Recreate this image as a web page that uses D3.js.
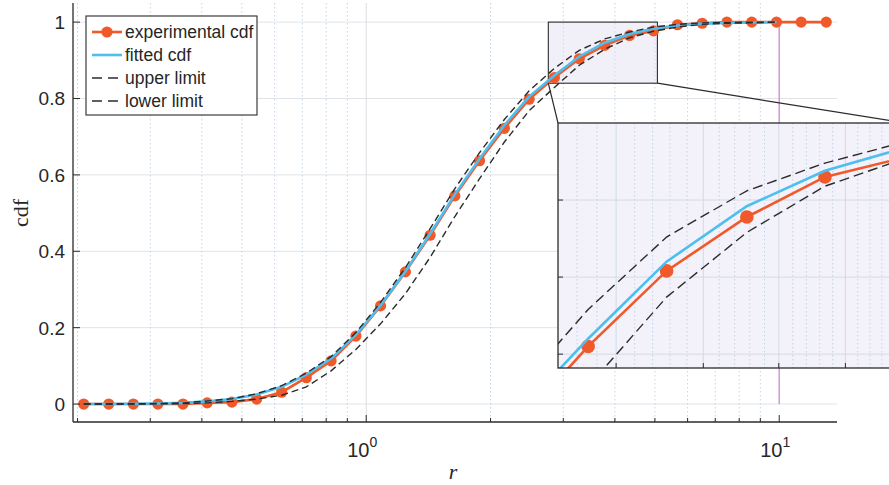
<!DOCTYPE html>
<html>
<head>
<meta charset="utf-8">
<script src="https://cdn.jsdelivr.net/npm/d3@7"></script>
<style>
body { margin: 0; background: #fff; }
text { font-family: "Liberation Sans", Arial, sans-serif; fill: #262626; }
</style>
</head>
<body>
<svg id="chart" width="889" height="485"></svg>
<script>
// sample radii
const radius = [0.207, 0.238, 0.273, 0.313, 0.360, 0.412, 0.473, 0.543, 0.624, 0.716,
    0.822, 0.944, 1.083, 1.244, 1.428, 1.639, 1.881, 2.16, 2.48, 2.855,
    3.28, 3.78, 4.34, 4.96, 5.67, 6.51, 7.47, 8.58, 9.85, 11.3, 13.0];
const experimentalCdf = [0, 0, 0, 0, 0, 0.003, 0.005, 0.013, 0.031, 0.069,
    0.113, 0.178, 0.257, 0.346, 0.442, 0.545, 0.637, 0.722, 0.798, 0.855,
    0.904, 0.939, 0.965, 0.977, 0.993, 0.997, 1, 1, 1, 1, 1];
const fittedCdf = [0, 0, 0.0006, 0.0014, 0.003, 0.007, 0.013, 0.025, 0.045, 0.077,
    0.119, 0.181, 0.258, 0.347, 0.446, 0.549, 0.642, 0.730, 0.805, 0.860,
    0.910, 0.946, 0.969, 0.983, 0.991, 0.996, 0.998, 0.999, 1.0];
const upperLimit = [0, 0, 0.0006, 0.0014, 0.003, 0.008, 0.014, 0.027, 0.048, 0.081,
    0.124, 0.187, 0.266, 0.357, 0.459, 0.564, 0.658, 0.745, 0.820, 0.879,
    0.926, 0.956, 0.974, 0.987, 0.994, 0.998, 0.999, 1.0, 1.0];
const lowerLimit = [0, 0, 0.0002, 0.0004, 0.001, 0.003, 0.007, 0.013, 0.023, 0.045,
    0.087, 0.143, 0.210, 0.289, 0.384, 0.491, 0.590, 0.686, 0.768, 0.829,
    0.887, 0.929, 0.959, 0.976, 0.987, 0.994, 0.997, 0.998, 1.0];

const yTicks = [0, 0.2, 0.4, 0.6, 0.8, 1];
const xMajorTicks = [1, 10];
const xMinorTicks = [0.2, 0.3, 0.4, 0.5, 0.6, 0.7, 0.8, 0.9, 2, 3, 4, 5, 6, 7, 8, 9];
const legendLabels = ['experimental cdf', 'fitted cdf', 'upper limit', 'lower limit'];

// zoomed window
const zoomX = [2.76, 5.07];
const zoomY = [0.84, 1.0];
const insetXDomain = [2.707, 5.0];
const insetYDomain = [0.841, 1.0];
const insetXTicks = [3, 3.5, 4, 4.5, 5];
const insetXMinor = [2.8, 2.9, 3.1, 3.2, 3.3, 3.4, 3.6, 3.7, 3.8, 3.9, 4.1, 4.2, 4.3, 4.4, 4.6, 4.7, 4.8, 4.9];
const insetYTicks = [0.85, 0.9, 0.95];

const orange = '#f0592a';
const blue = '#4dbeee';
const dark = '#2b2b2b';

const svg = d3.select('#chart');

const x = d3.scaleLog().domain([0.195, 13.8]).range([73, 837]);
const y = d3.scaleLinear().domain([-0.047, 1.05]).range([422, 3]);

const plotTop = y.range()[1], plotBottom = y.range()[0];
const plotLeft = x.range()[0], plotRight = x.range()[1];

// Grid
const grid = svg.append('g').attr('class', 'grid');
grid.selectAll('.hgrid').data(yTicks).enter().append('line')
    .attr('x1', plotLeft).attr('x2', plotRight)
    .attr('y1', d => y(d)).attr('y2', d => y(d))
    .style('stroke', '#e1e3e8').style('stroke-width', 1);
grid.selectAll('.vminor').data(xMinorTicks).enter().append('line')
    .attr('x1', d => x(d)).attr('x2', d => x(d))
    .attr('y1', plotTop).attr('y2', plotBottom)
    .style('stroke', '#bcd6ee').style('stroke-width', 1)
    .style('stroke-dasharray', '1.5,2.5');
grid.append('line')
    .attr('x1', x(1)).attr('x2', x(1)).attr('y1', plotTop).attr('y2', plotBottom)
    .style('stroke', '#dcdde2').style('stroke-width', 1);
grid.append('line')
    .attr('x1', x(10)).attr('x2', x(10)).attr('y1', y(1.01)).attr('y2', y(0))
    .style('stroke', '#d89ad6').style('stroke-width', 1.6);

// zoom window in main axes
svg.append('rect')
    .attr('x', x(zoomX[0])).attr('y', y(zoomY[1]))
    .attr('width', x(zoomX[1]) - x(zoomX[0]))
    .attr('height', y(zoomY[0]) - y(zoomY[1]))
    .style('fill', 'rgba(225,220,240,0.45)')
    .style('stroke', dark).style('stroke-width', 1.1);

function drawCurves(g, xs, ys, markerR, dash) {
    const line = (vals) => d3.line()
        .x((d, i) => xs(radius[i]))
        .y(d => ys(d))(vals);

    g.append('path').attr('d', line(experimentalCdf))
        .style('fill', 'none').style('stroke', orange).style('stroke-width', 2.6);
    g.selectAll('circle').data(experimentalCdf).enter().append('circle')
        .attr('cx', (d, i) => xs(radius[i]))
        .attr('cy', d => ys(d))
        .attr('r', markerR)
        .style('fill', orange);
    g.append('path').attr('d', line(fittedCdf))
        .style('fill', 'none').style('stroke', blue).style('stroke-width', 2.6);
    [upperLimit, lowerLimit].forEach(vals => {
        g.append('path').attr('d', line(vals))
            .style('fill', 'none').style('stroke', dark).style('stroke-width', 1.4)
            .style('stroke-dasharray', dash);
    });
}

drawCurves(svg.append('g').attr('class', 'lines'), x, y, 5.6, '7,4');

// Axes
const axes = svg.append('g').attr('class', 'axes');
axes.append('line').attr('x1', plotLeft).attr('x2', plotLeft).attr('y1', plotTop).attr('y2', plotBottom)
    .style('stroke', dark).style('stroke-width', 1.3);
axes.append('line').attr('x1', plotLeft).attr('x2', plotRight).attr('y1', plotBottom).attr('y2', plotBottom)
    .style('stroke', dark).style('stroke-width', 1.3);
axes.selectAll('.ytick').data(yTicks).enter().append('line')
    .attr('x1', plotLeft).attr('x2', plotLeft + 7)
    .attr('y1', d => y(d)).attr('y2', d => y(d))
    .style('stroke', dark);
axes.selectAll('.ylabel').data(yTicks).enter().append('text')
    .attr('x', plotLeft - 8).attr('y', d => y(d) + 7)
    .attr('text-anchor', 'end')
    .style('font-size', '19px')
    .text(d => d);
axes.selectAll('.xminor').data(xMinorTicks).enter().append('line')
    .attr('x1', d => x(d)).attr('x2', d => x(d))
    .attr('y1', plotBottom).attr('y2', plotBottom - 4)
    .style('stroke', dark);
axes.selectAll('.xmajor').data(xMajorTicks).enter().append('line')
    .attr('x1', d => x(d)).attr('x2', d => x(d))
    .attr('y1', plotBottom).attr('y2', plotBottom - 7)
    .style('stroke', dark);
const xl = axes.selectAll('.xlabel').data(xMajorTicks).enter().append('text')
    .attr('x', d => x(d) - 4).attr('y', 457)
    .attr('text-anchor', 'middle')
    .style('font-size', '20px');
xl.append('tspan').text('10');
xl.append('tspan').attr('dy', -10).style('font-size', '14px').text(d => Math.round(Math.log10(d)));

svg.append('text')
    .attr('transform', 'translate(28,213) rotate(-90)')
    .attr('text-anchor', 'middle')
    .style('font-family', '"Liberation Serif", "Times New Roman", serif')
    .style('font-size', '22px')
    .text('cdf');
svg.append('text')
    .attr('x', 453).attr('y', 479)
    .attr('text-anchor', 'middle')
    .style('font-family', '"Liberation Serif", "Times New Roman", serif')
    .style('font-style', 'italic')
    .style('font-size', '22px')
    .text('r');

// Legend
const legend = svg.append('g').attr('class', 'legend');
legend.append('rect').attr('x', 86).attr('y', 16).attr('width', 171).attr('height', 99)
    .style('fill', '#fff').style('stroke', dark).style('stroke-width', 1.1);
const rowY = d3.scalePoint().domain(legendLabels).range([32, 101]);
legendLabels.forEach((label, i) => {
    const yy = rowY(label);
    const ln = legend.append('line').attr('x1', 92).attr('x2', 122).attr('y1', yy).attr('y2', yy);
    if (i === 0) {
        ln.style('stroke', orange).style('stroke-width', 2.6);
        legend.append('circle').attr('cx', 107).attr('cy', yy).attr('r', 5.6).style('fill', orange);
    } else if (i === 1) {
        ln.style('stroke', blue).style('stroke-width', 2.6);
    } else {
        ln.style('stroke', dark).style('stroke-width', 1.4).style('stroke-dasharray', '10,6')
            .attr('x1', 92).attr('x2', 118);
    }
    legend.append('text').attr('x', 125).attr('y', yy + 6)
        .style('font-size', '17.5px').text(label);
});

// Inset
const ix = d3.scaleLog().domain(insetXDomain).range([558, 905]);
const iy = d3.scaleLinear().domain(insetYDomain).range([368, 123]);

svg.append('line').attr('x1', x(zoomX[0])).attr('y1', y(zoomY[0]))
    .attr('x2', ix.range()[0]).attr('y2', iy.range()[1])
    .style('stroke', dark).style('stroke-width', 1.2);
svg.append('line').attr('x1', x(zoomX[1])).attr('y1', y(zoomY[0]))
    .attr('x2', ix.range()[1]).attr('y2', iy.range()[1])
    .style('stroke', dark).style('stroke-width', 1.2);

svg.append('clipPath').attr('id', 'insetClip').append('rect')
    .attr('x', 558).attr('y', 123).attr('width', 347).attr('height', 245);
const inset = svg.append('g').attr('class', 'inset');
inset.append('rect').attr('x', 558).attr('y', 123).attr('width', 347).attr('height', 245)
    .style('fill', '#f3f1f9');
const ig = inset.append('g').attr('clip-path', 'url(#insetClip)');
ig.selectAll('.ih').data(insetYTicks).enter().append('line')
    .attr('x1', 558).attr('x2', 905).attr('y1', d => iy(d)).attr('y2', d => iy(d))
    .style('stroke', '#d6dbe4');
ig.selectAll('.ivm').data(insetXMinor).enter().append('line')
    .attr('x1', d => ix(d)).attr('x2', d => ix(d)).attr('y1', 123).attr('y2', 368)
    .style('stroke', '#bcd6ee').style('stroke-dasharray', '1.5,2.5');
ig.selectAll('.iv').data(insetXTicks).enter().append('line')
    .attr('x1', d => ix(d)).attr('x2', d => ix(d)).attr('y1', 123).attr('y2', 368)
    .style('stroke', '#d0dbe8');
drawCurves(ig.append('g'), ix, iy, 6.8, '10,5');

inset.selectAll('.ixt').data(insetXTicks).enter().append('line')
    .attr('x1', d => ix(d)).attr('x2', d => ix(d)).attr('y1', 368).attr('y2', 363)
    .style('stroke', dark);
inset.selectAll('.iyt').data(insetYTicks).enter().append('line')
    .attr('x1', 558).attr('x2', 563).attr('y1', d => iy(d)).attr('y2', d => iy(d))
    .style('stroke', dark);
inset.append('rect').attr('x', 558).attr('y', 123).attr('width', 347).attr('height', 245)
    .style('fill', 'none').style('stroke', dark).style('stroke-width', 1.3);
</script>
</body>
</html>
